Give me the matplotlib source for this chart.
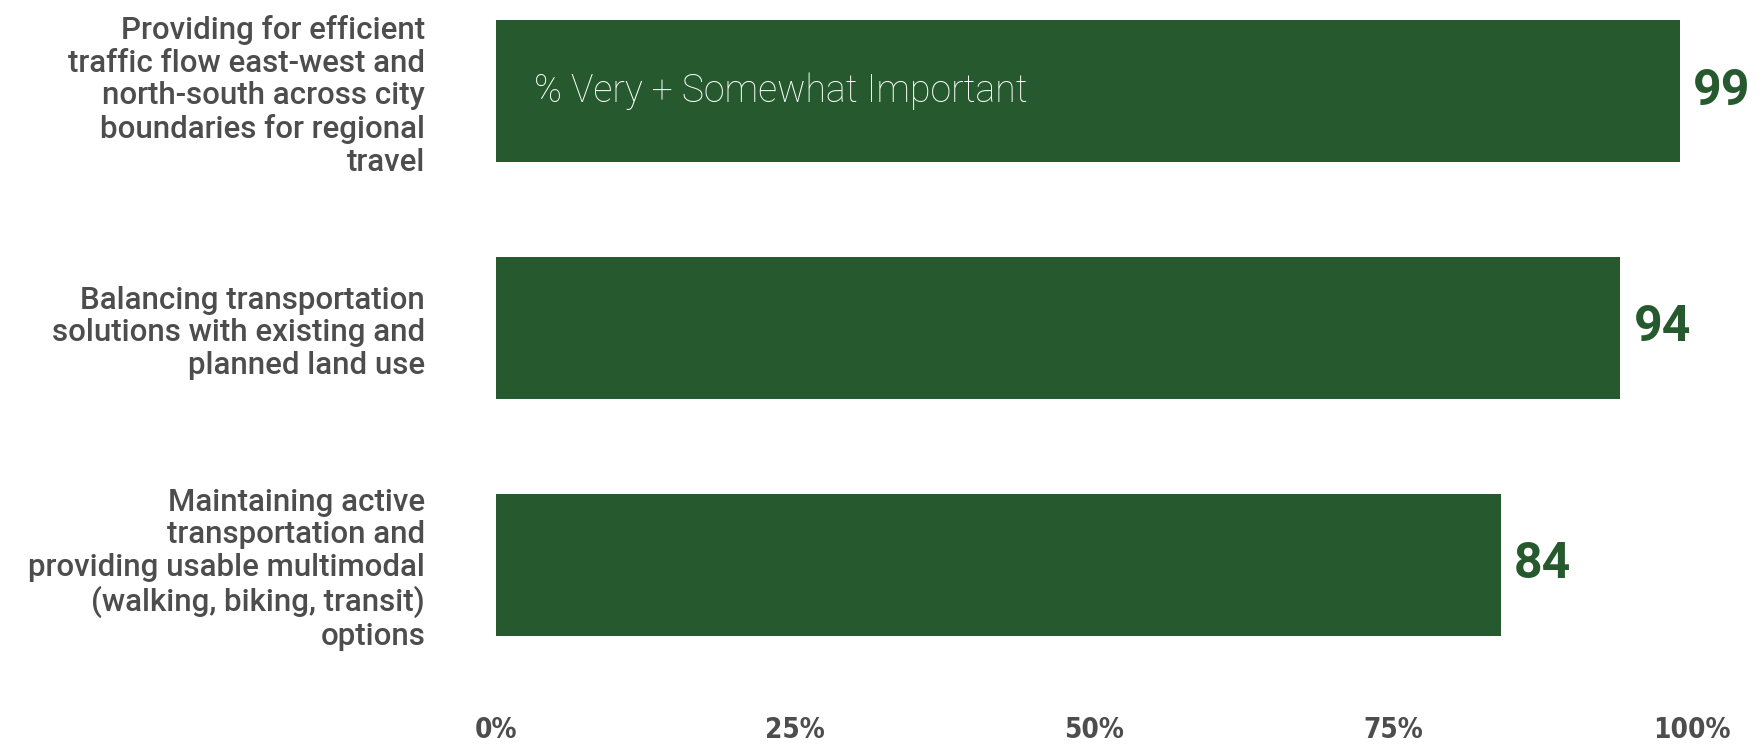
import matplotlib.pyplot as plt
import numpy as np

categories = [
    'Providing for efficient\ntraffic flow east-west and\nnorth-south across city\nboundaries for regional\ntravel',
    'Balancing transportation\nsolutions with existing and\nplanned land use',
    'Maintaining active\ntransportation and\nproviding usable multimodal\n(walking, biking, transit)\noptions',
]
values = [99, 94, 84]
tick_vals = [0, 25, 50, 75, 100]
tick_labels = ['0%', '25%', '50%', '75%', '100%']
series_label = '% Very + Somewhat Important'

green = '#265a2e'
grey = '#4d4d4d'

fig = plt.figure(figsize=(17.64, 7.44), dpi=100)
ax = fig.add_axes([0.2812, 0.082, 0.678, 0.918])

y = np.arange(len(values))
ax.barh(y, values, height=0.6, color=green)
ax.set_ylim(2.5, -0.385)
ax.set_xlim(0, 100)

ax.set_yticks(y)
ax.set_yticklabels(categories, family='Roboto', weight='medium', fontsize=22.5,
                   color=grey, linespacing=1.16)
ax.set_xticks(tick_vals)
ax.set_xticklabels(tick_labels, family='DejaVu Sans', stretch='condensed',
                   weight='bold', fontsize=20, color=grey)
ax.tick_params(axis='y', length=0, pad=51)
ax.tick_params(axis='x', length=0, pad=24)
for s in ax.spines.values():
    s.set_visible(False)

for yi, v in zip(y, values):
    ax.text(v + 1.1, yi, str(v), va='center', ha='left', family='Roboto',
            weight='bold', fontsize=36, color=green)

ax.text(3.2, 0, series_label, va='center', ha='left', family='Roboto',
        weight='light', fontsize=27, color='white')

fig.savefig('out.png', dpi=100)
